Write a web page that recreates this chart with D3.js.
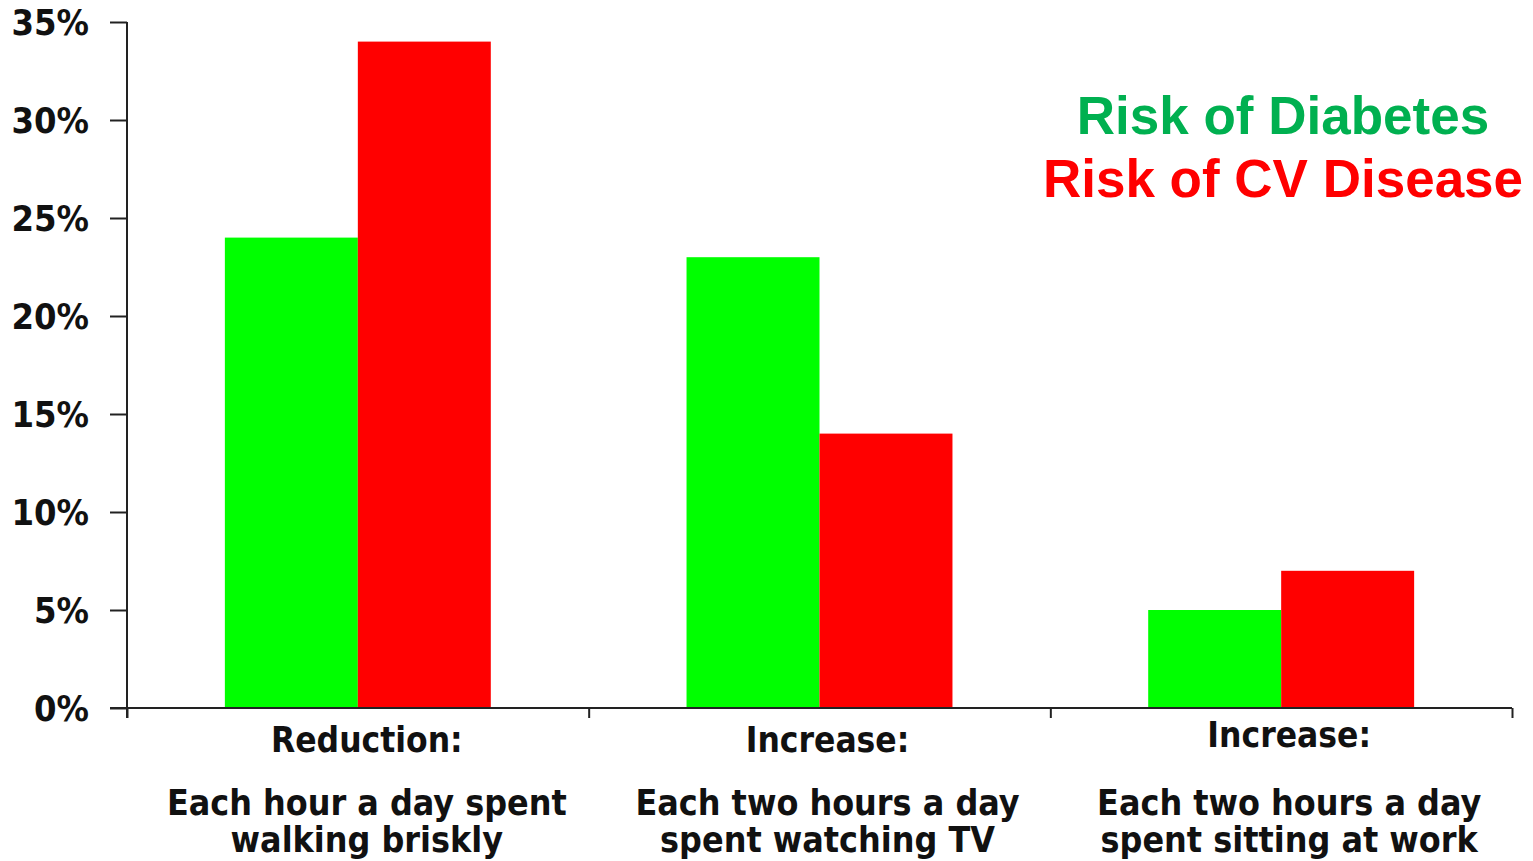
<!DOCTYPE html>
<html>
<head>
<meta charset="utf-8">
<script src="https://d3js.org/d3.v7.min.js"></script>
<style>
  html, body { margin: 0; padding: 0; background: #fff; }
  svg { display: block; }
  .lbl { font-family: "Liberation Sans Narrow", "DejaVu Sans Condensed", "Liberation Sans", sans-serif; font-weight: bold; fill: #111; }
  .legend { font-family: "Liberation Sans", Arial, sans-serif; font-weight: bold; }
</style>
</head>
<body>
<svg id="chart" width="1533" height="861"></svg>
<script>
// Groups along the x axis: heading line plus two description lines
const categories = ["walking", "tv", "work"];
const categoryHeads = ["Reduction:", "Increase:", "Increase:"];
const categoryLines = [
  ["Each hour a day spent", "walking briskly"],
  ["Each two hours a day", "spent watching TV"],
  ["Each two hours a day", "spent sitting at work"]
];

// Percent change in risk for each group
const seriesNames = ["Risk of Diabetes", "Risk of CV Disease"];
const diabetesValues = [24, 23, 5];
const cvValues = [34, 14, 7];

// Y axis ticks
const yTicks = [0, 5, 10, 15, 20, 25, 30, 35];

const barColors = ["#00ff00", "#ff0000"];
const legendColors = ["#00b050", "#ff0000"];

const svg = d3.select("#chart");
const plotLeft = 127, plotRight = 1512, plotTop = 22, plotBottom = 708;

const x0 = d3.scaleBand().domain(categories).range([plotLeft, plotRight]).padding(0);
const x1 = d3.scaleBand().domain(seriesNames).range([0, x0.bandwidth()])
  .paddingInner(0).paddingOuter(0.736);
const y = d3.scaleLinear().domain([0, 35]).range([plotBottom, plotTop]);

const rows = categories.map((c, i) => ({
  cat: c,
  vals: [diabetesValues[i], cvValues[i]]
}));

// Bars
const groups = svg.append("g").selectAll("g").data(rows).join("g")
  .attr("transform", d => `translate(${x0(d.cat)},0)`);
groups.selectAll("rect")
  .data(d => d.vals.map((v, k) => ({ name: seriesNames[k], v, k })))
  .join("rect")
  .attr("x", d => x1(d.name))
  .attr("width", x1.bandwidth())
  .attr("y", d => y(d.v))
  .attr("height", d => y(0) - y(d.v))
  .attr("fill", d => barColors[d.k]);

// Y axis
const yAxis = svg.append("g")
  .attr("transform", `translate(${plotLeft},0)`)
  .call(d3.axisLeft(y).tickValues(yTicks).tickFormat(d => d + "%").tickSize(17).tickSizeOuter(0).tickPadding(21));
yAxis.select(".domain").attr("stroke", "#222").attr("stroke-width", 2)
  .attr("d", `M0,${plotTop}V${plotBottom + 10}`);
yAxis.selectAll(".tick line").attr("stroke", "#222").attr("stroke-width", 2);
yAxis.selectAll(".tick text").attr("class", "lbl").style("font-size", "36px").attr("dy", "0.36em");

// X axis: boundary ticks between groups
const xBounds = [plotLeft, ...categories.slice(1).map(c => x0(c)), plotRight];
const xAxisScale = d3.scaleLinear().domain([plotLeft, plotRight]).range([plotLeft, plotRight]);
const xAxis = svg.append("g")
  .attr("transform", `translate(0,${plotBottom})`)
  .call(d3.axisBottom(xAxisScale).tickValues(xBounds).tickFormat("").tickSize(10).tickSizeOuter(0));
xAxis.select(".domain").attr("stroke", "#222").attr("stroke-width", 2)
  .attr("d", `M${plotLeft - 17},0H${plotRight}`);
xAxis.selectAll(".tick line").attr("stroke", "#222").attr("stroke-width", 2);

// Category labels
const headY = [752, 752, 747];
const labelG = svg.append("g").selectAll("g").data(categories).join("g")
  .attr("transform", (c, i) => `translate(${x0(c) + x0.bandwidth() / 2 + (i === 0 ? 9 : 8)},0)`);
labelG.append("text").attr("class", "lbl").attr("text-anchor", "middle")
  .style("font-size", "35px")
  .attr("y", (c, i) => headY[i])
  .text((c, i) => categoryHeads[i]);
labelG.each(function (c, i) {
  const g = d3.select(this);
  categoryLines[i].forEach((line, j) => {
    g.append("text").attr("class", "lbl").attr("text-anchor", "middle")
      .style("font-size", "35.5px")
      .attr("y", 815 + j * 37)
      .text(line);
  });
});

// Legend
svg.append("g").selectAll("text").data(seriesNames).join("text")
  .attr("class", "legend")
  .attr("text-anchor", "middle")
  .attr("x", 1283)
  .attr("y", (d, i) => 134 + i * 63)
  .attr("fill", (d, i) => legendColors[i])
  .style("font-size", "53px")
  .text(d => d);
</script>
</body>
</html>
